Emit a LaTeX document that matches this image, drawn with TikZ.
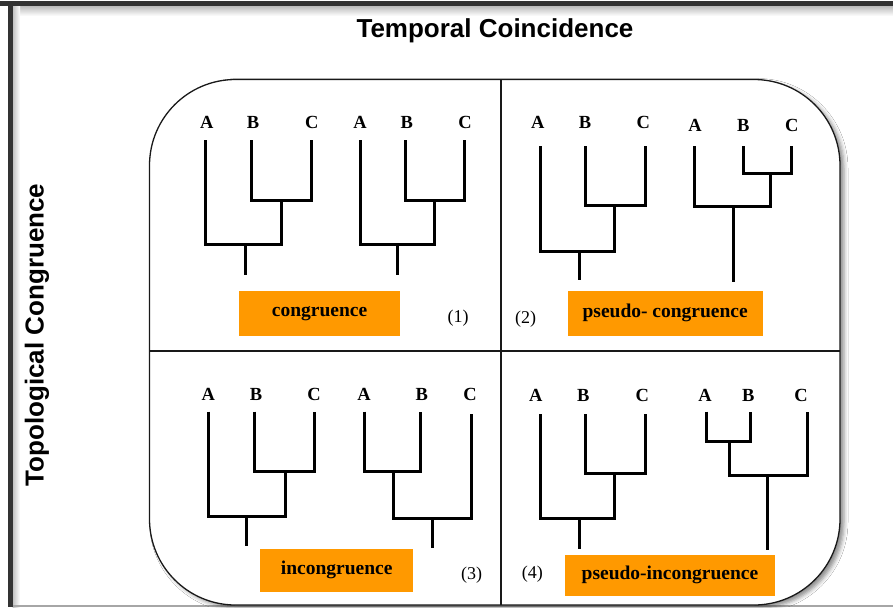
\documentclass[tikz,border=0pt]{standalone}
\usepackage{fontspec}
\setmainfont{Liberation Serif}
\setsansfont{Liberation Sans}
\usetikzlibrary{shadows.blur}
\definecolor{boxorange}{RGB}{255,153,0}
\definecolor{framegray}{RGB}{51,51,51}
\tikzset{
  tree/.style={line width=3pt, line join=miter, line cap=butt},
  leaf/.style={font=\bfseries\fontsize{18.5}{18.5}\selectfont, inner sep=0pt},
  tag/.style={fill=boxorange, font=\bfseries\fontsize{19.5}{19.5}\selectfont, inner sep=0pt},
  num/.style={font=\fontsize{18}{18}\selectfont, inner sep=0pt},
  head/.style={font=\sffamily\bfseries\fontsize{26}{26}\selectfont, inner sep=0pt},
  panel/.style={line width=1.3pt, draw=black!90},
}
\begin{document}
\begin{tikzpicture}[x=1pt,y=-1pt]
\useasboundingbox (0,0) rectangle (893,607);
% outer frame
\fill[white] (0,0) rectangle (893,607);
\shade[top color=black!25, bottom color=white] (12.5,6.5) rectangle (893,16);
\shade[left color=black!25, right color=white] (12.5,6.5) rectangle (20,607);
\fill[framegray] (0,1.5) rectangle (893,6.5);
\fill[framegray] (8,1.5) rectangle (12.5,607);
\draw[black!35, line width=1.5pt] (12.5,605.8) -- (893,605.8);
% headings
\node[head] (title) at (495,30.5) {Temporal Coincidence};
\node[head, rotate=90] (side) at (37,335) {Topological Congruence};
% rounded panel
\draw[panel, fill=white, rounded corners=86pt,
  blur shadow={shadow xshift=4pt, shadow yshift=-3pt, shadow blur radius=4pt, shadow opacity=45}]
  (149.5,79.5) rectangle (840,605);
\coordinate (vt) at (501,79.5);
\coordinate (vb) at (501,605);
\coordinate (hl) at (149.5,351);
\coordinate (hr) at (840,351);
\draw[panel] (vt) -- (vb);
\draw[panel] (hl) -- (hr);

% ---------- panel 1 ----------
\node[leaf] (p1a1) at (206.7,122.7) {A};
\node[leaf] (p1b1) at (253,122.7) {B};
\node[leaf] (p1c1) at (311.7,122.7) {C};
\node[leaf] (p1a2) at (360,122.7) {A};
\node[leaf] (p1b2) at (406.7,122.7) {B};
\node[leaf] (p1c2) at (465,122.7) {C};
\draw[tree] (205.7,140) -- (205.7,244) -- (281,244) -- (281,200);
\draw[tree] (251,140) -- (251,200) -- (311.7,200) -- (311.7,140);
\draw[tree] (245,244) -- (245,275);
\draw[tree] (360,140) -- (360,244) -- (434,244) -- (434,200);
\draw[tree] (405,140) -- (405,200) -- (464.5,200) -- (464.5,140);
\draw[tree] (397.7,244) -- (397.7,275);
\node[tag, minimum width=161pt, minimum height=45pt] (t1) at (319.5,313.2) {congruence};
\node[num] (n1) at (458,318) {(1)};

% ---------- panel 2 ----------
\node[leaf] (p2a1) at (537.7,122.7) {A};
\node[leaf] (p2b1) at (585,122.7) {B};
\node[leaf] (p2c1) at (643.3,122.7) {C};
\node[leaf] (p2a2) at (695,125) {A};
\node[leaf] (p2b2) at (743.3,125) {B};
\node[leaf] (p2c2) at (791.7,125) {C};
\draw[tree] (540.7,146) -- (540.7,251) -- (614.3,251) -- (614.3,205);
\draw[tree] (585,146) -- (585,205) -- (645.7,205) -- (645.7,146);
\draw[tree] (579,251) -- (579,280);
\draw[tree] (694.3,146) -- (694.3,206) -- (770,206) -- (770,173.3);
\draw[tree] (743.3,146) -- (743.3,173.3) -- (791,173.3) -- (791,146);
\draw[tree] (733.3,206) -- (733.3,281.7);
\node[tag, minimum width=195pt, minimum height=45pt] (t2) at (665.2,313.2) {pseudo- congruence};
\node[num] (n2) at (525.7,319.3) {(2)};

% ---------- panel 3 ----------
\node[leaf] (p3a1) at (208.3,394.3) {A};
\node[leaf] (p3b1) at (256,394.3) {B};
\node[leaf] (p3c1) at (314,394.3) {C};
\node[leaf] (p3a2) at (364,394.3) {A};
\node[leaf] (p3b2) at (421.7,394.3) {B};
\node[leaf] (p3c2) at (470,394.3) {C};
\draw[tree] (208.3,411.7) -- (208.3,516.7) -- (285.7,516.7) -- (285.7,471);
\draw[tree] (254.3,411.7) -- (254.3,471) -- (314,471) -- (314,411.7);
\draw[tree] (246.7,516.7) -- (246.7,546);
\draw[tree] (364,411.7) -- (364,471.7) -- (420.7,471.7) -- (420.7,411.7);
\draw[tree] (393.3,471.7) -- (393.3,518.3) -- (471.7,518.3) -- (471.7,414.3);
\draw[tree] (432.3,518.3) -- (432.3,548.3);
\node[tag, minimum width=153pt, minimum height=43pt] (t3) at (336.7,570.3) {incongruence};
\node[num] (n3) at (471.7,575) {(3)};

% ---------- panel 4 ----------
\node[leaf] (p4a1) at (535.7,395) {A};
\node[leaf] (p4b1) at (583.3,395) {B};
\node[leaf] (p4c1) at (642.3,395) {C};
\node[leaf] (p4a2) at (705,395) {A};
\node[leaf] (p4b2) at (748.3,395) {B};
\node[leaf] (p4c2) at (801,395) {C};
\draw[tree] (540.7,414.3) -- (540.7,518.3) -- (614,518.3) -- (614,473.3);
\draw[tree] (585,414.3) -- (585,473.3) -- (645.7,473.3) -- (645.7,414.3);
\draw[tree] (579,518.3) -- (579,549);
\draw[tree] (706.7,411.7) -- (706.7,441) -- (750,441) -- (750,411.7);
\draw[tree] (729.3,441) -- (729.3,475) -- (807.3,475) -- (807.3,411.7);
\draw[tree] (767.7,475) -- (767.7,550);
\node[tag, minimum width=210pt, minimum height=41pt] (t4) at (670,575) {pseudo-incongruence};
\node[num] (n4) at (532.3,574.3) {(4)};
\end{tikzpicture}
\end{document}
